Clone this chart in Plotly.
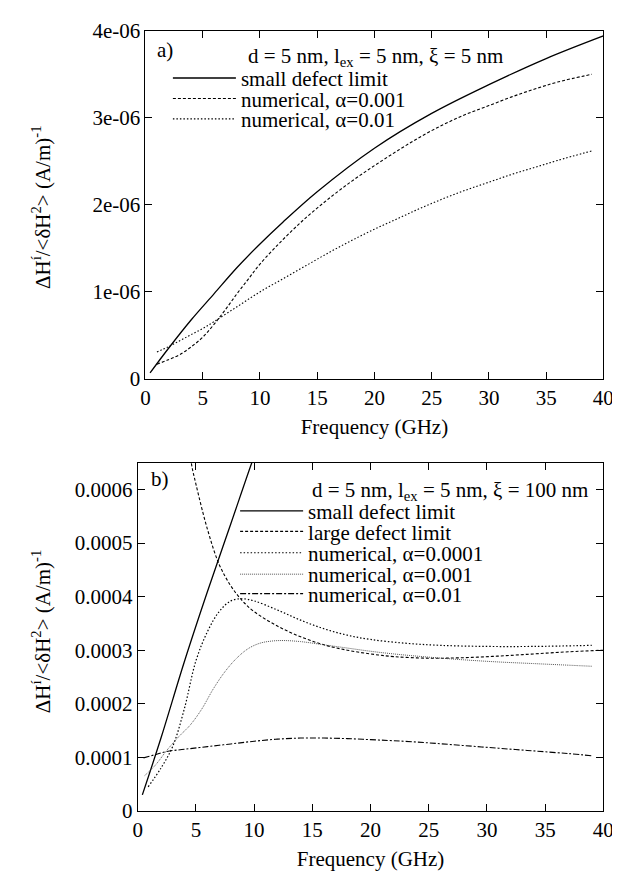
import plotly.graph_objects as go

FONT = "Liberation Serif"

# ---------------- Panel (a): d = 5 nm, lex = 5 nm, xi = 5 nm ----------------
freq_a_small = [0.4, 2, 4, 6, 8, 10, 12, 15, 20, 25, 30, 35, 40]
val_a_small = [0.07e-6, 0.35e-6, 0.68e-6, 0.98e-6, 1.28e-6, 1.55e-6, 1.80e-6, 2.15e-6,
               2.65e-6, 3.05e-6, 3.38e-6, 3.68e-6, 3.94e-6]

freq_a_num001 = [1.0, 2, 3, 4, 5, 6, 7, 8, 9, 10, 12, 14, 16, 18, 20, 22, 24, 26, 28,
                 30, 32, 34, 36, 39]
val_a_num001 = [0.17e-6, 0.22e-6, 0.28e-6, 0.37e-6, 0.48e-6, 0.63e-6, 0.80e-6, 0.98e-6,
                1.15e-6, 1.32e-6, 1.60e-6, 1.85e-6, 2.07e-6, 2.27e-6, 2.45e-6, 2.62e-6,
                2.78e-6, 2.92e-6, 3.04e-6, 3.14e-6, 3.24e-6, 3.33e-6, 3.41e-6, 3.50e-6]

freq_a_num01 = [1.0, 2, 3, 4, 5, 6, 8, 10, 12, 14, 16, 18, 20, 22, 24, 26, 28, 30, 32,
                34, 36, 39]
val_a_num01 = [0.31e-6, 0.37e-6, 0.44e-6, 0.51e-6, 0.58e-6, 0.66e-6, 0.83e-6, 1.00e-6,
               1.15e-6, 1.30e-6, 1.45e-6, 1.59e-6, 1.72e-6, 1.84e-6, 1.96e-6, 2.07e-6,
               2.17e-6, 2.26e-6, 2.35e-6, 2.43e-6, 2.51e-6, 2.62e-6]

# ---------------- Panel (b): d = 5 nm, lex = 5 nm, xi = 100 nm ----------------
freq_b_small = [0.4, 2, 4, 6, 8, 10, 10.5]
val_b_small = [0.30e-4, 1.36e-4, 2.78e-4, 4.10e-4, 5.36e-4, 6.62e-4, 6.90e-4]

freq_b_large = [4.0, 4.6, 5, 6, 7, 8, 9, 10, 12, 14, 16, 18, 20, 22, 25, 28, 31, 34, 37, 40]
val_b_large = [7.6e-4, 6.5e-4, 6.1e-4, 5.25e-4, 4.6e-4, 4.2e-4, 3.92e-4, 3.72e-4, 3.45e-4,
               3.25e-4, 3.10e-4, 3.00e-4, 2.93e-4, 2.88e-4, 2.85e-4, 2.86e-4, 2.89e-4,
               2.93e-4, 2.97e-4, 3.00e-4]

freq_b_num0001 = [0.9, 2, 3, 4, 5, 6, 7, 8, 9, 10, 12, 14, 16, 18, 20, 23, 26, 30, 34, 39]
val_b_num0001 = [0.45e-4, 0.80e-4, 1.20e-4, 1.90e-4, 2.80e-4, 3.35e-4, 3.72e-4, 3.92e-4,
                 3.96e-4, 3.92e-4, 3.75e-4, 3.56e-4, 3.40e-4, 3.28e-4, 3.20e-4, 3.13e-4,
                 3.09e-4, 3.07e-4, 3.07e-4, 3.09e-4]

freq_b_num001 = [0.6, 1.5, 2.5, 3.5, 4.5, 5.5, 6.5, 7.5, 8.5, 9.5, 10.5, 11.5, 12.5, 14,
                 16, 18, 20, 22, 25, 28, 31, 34, 37, 39]
val_b_num001 = [0.66e-4, 0.85e-4, 1.13e-4, 1.38e-4, 1.60e-4, 1.90e-4, 2.28e-4, 2.60e-4,
                2.85e-4, 3.03e-4, 3.13e-4, 3.17e-4, 3.18e-4, 3.16e-4, 3.10e-4, 3.04e-4,
                2.98e-4, 2.93e-4, 2.87e-4, 2.82e-4, 2.78e-4, 2.75e-4, 2.72e-4, 2.70e-4]

freq_b_num01 = [0.5, 1.5, 2.5, 4, 6, 8, 10, 12, 14, 16, 18, 20, 22, 25, 28, 31, 34, 37, 39]
val_b_num01 = [0.99e-4, 1.05e-4, 1.11e-4, 1.15e-4, 1.20e-4, 1.25e-4, 1.30e-4, 1.34e-4,
               1.36e-4, 1.36e-4, 1.35e-4, 1.33e-4, 1.31e-4, 1.27e-4, 1.22e-4, 1.17e-4,
               1.12e-4, 1.07e-4, 1.03e-4]

# tick labels
x_ticks = [0, 5, 10, 15, 20, 25, 30, 35, 40]
x_ticktext = ["0", "5", "10", "15", "20", "25", "30", "35", "40"]
ya_ticks = [0, 1e-6, 2e-6, 3e-6, 4e-6]
ya_ticktext = ["0", "1e-06", "2e-06", "3e-06", "4e-06"]
yb_ticks = [0, 1e-4, 2e-4, 3e-4, 4e-4, 5e-4, 6e-4]
yb_ticktext = ["0", "0.0001", "0.0002", "0.0003", "0.0004", "0.0005", "0.0006"]

W, H = 620, 884


def px_x(p):
    return p / W


def px_y(p):
    return 1 - p / H


def fnt(size=21):
    return dict(family=FONT, size=size, color="black")


fig = go.Figure()

rows_a = [60, 81, 102]
rows_b = [505, 526, 548, 570, 590]
xa_leg = 159
xb_leg = 228

traces_a = [
    ("small defect limit", freq_a_small, val_a_small, "solid", "black", 1.3),
    ("numerical, α=0.001", freq_a_num001, val_a_num001, "3px,2px", "black", 1.1),
    ("numerical, α=0.01", freq_a_num01, val_a_num01, "1.5px,2px", "black", 1.1),
]
traces_b = [
    ("small defect limit", freq_b_small, val_b_small, "solid", "black", 1.3),
    ("large defect limit", freq_b_large, val_b_large, "3px,2px", "black", 1.1),
    ("numerical, α=0.0001", freq_b_num0001, val_b_num0001, "1.5px,2px", "black", 1.2),
    ("numerical, α=0.001", freq_b_num001, val_b_num001, "1px,1px", "#555555", 1.0),
    ("numerical, α=0.01", freq_b_num01, val_b_num01, "6px,2px,2px,2px", "black", 1.1),
]

legend_layouts = {}
n = 0
for (name, xs, ys, dash, col, w), row in zip(traces_a, rows_a):
    n += 1
    lname = "legend" if n == 1 else f"legend{n}"
    fig.add_trace(go.Scatter(x=xs, y=ys, mode="lines", name=name, showlegend=True,
                             line=dict(color=col, width=w, dash=dash, shape="spline"),
                             xaxis="x", yaxis="y", legend=lname))
    legend_layouts[lname] = (xa_leg, row)
for (name, xs, ys, dash, col, w), row in zip(traces_b, rows_b):
    n += 1
    lname = f"legend{n}"
    fig.add_trace(go.Scatter(x=xs, y=ys, mode="lines", name=name, showlegend=True,
                             line=dict(color=col, width=w, dash=dash, shape="spline"),
                             xaxis="x2", yaxis="y2", legend=lname))
    legend_layouts[lname] = (xb_leg, row)

for lname, (lx, ly) in legend_layouts.items():
    fig.update_layout({lname: dict(x=px_x(lx), y=px_y(ly), xanchor="left", yanchor="middle",
                                   bgcolor="rgba(0,0,0,0)", borderwidth=0,
                                   font=fnt(), itemwidth=63, tracegroupgap=0)})

axis_common = dict(showline=True, linecolor="black", linewidth=1, mirror="ticks",
                   ticks="inside", ticklen=7, tickwidth=1, tickcolor="black",
                   showgrid=False, zeroline=False, ticklabeloverflow="allow",
                   tickfont=fnt())

ytitle = "ΔH<sup>í</sup>/&lt;δH<sup>2</sup>&gt; (A/m)<sup>-1</sup>"

fig.update_layout(
    width=W, height=H,
    showlegend=True,
    margin=dict(l=0, r=0, t=0, b=0),
    paper_bgcolor="white", plot_bgcolor="white",
    xaxis=dict(domain=[136 / W, 606 / W], range=[0, 40.0001], anchor="y",
               tickvals=x_ticks, ticktext=x_ticktext,
               title=dict(text="Frequency (GHz)", font=fnt(), standoff=10),
               **axis_common),
    yaxis=dict(domain=[px_y(369), px_y(11)], range=[0, 4.00001e-6], anchor="x",
               tickvals=ya_ticks, ticktext=ya_ticktext, **axis_common),
    xaxis2=dict(domain=[128 / W, 606 / W], range=[0, 40.0001], anchor="y2",
                tickvals=x_ticks, ticktext=x_ticktext,
                title=dict(text="Frequency (GHz)", font=fnt(), standoff=10),
                **axis_common),
    yaxis2=dict(domain=[px_y(813), px_y(455)], range=[0, 6.5e-4], anchor="x2",
                tickvals=yb_ticks, ticktext=yb_ticktext, **axis_common),
    annotations=[
        dict(text=ytitle, x=px_x(30), y=px_y(192), xref="paper", yref="paper",
             xanchor="center", yanchor="middle", textangle=-90, showarrow=False,
             font=fnt()),
        dict(text=ytitle, x=px_x(30), y=px_y(628), xref="paper", yref="paper",
             xanchor="center", yanchor="middle", textangle=-90, showarrow=False,
             font=fnt()),
        dict(text="a)", x=px_x(146), y=px_y(31), xref="paper", yref="paper",
             xanchor="left", yanchor="middle", showarrow=False, font=fnt()),
        dict(text="d = 5 nm, l<sub>ex</sub> = 5 nm, ξ = 5 nm", x=px_x(239), y=px_y(38),
             xref="paper", yref="paper", xanchor="left", yanchor="middle", showarrow=False,
             font=fnt()),
        dict(text="b)", x=px_x(140), y=px_y(472), xref="paper", yref="paper",
             xanchor="left", yanchor="middle", showarrow=False, font=fnt()),
        dict(text="d = 5 nm, l<sub>ex</sub> = 5 nm, ξ = 100 nm", x=px_x(305), y=px_y(484),
             xref="paper", yref="paper", xanchor="left", yanchor="middle", showarrow=False,
             font=fnt()),
    ],
)

fig.write_html("out.html")
